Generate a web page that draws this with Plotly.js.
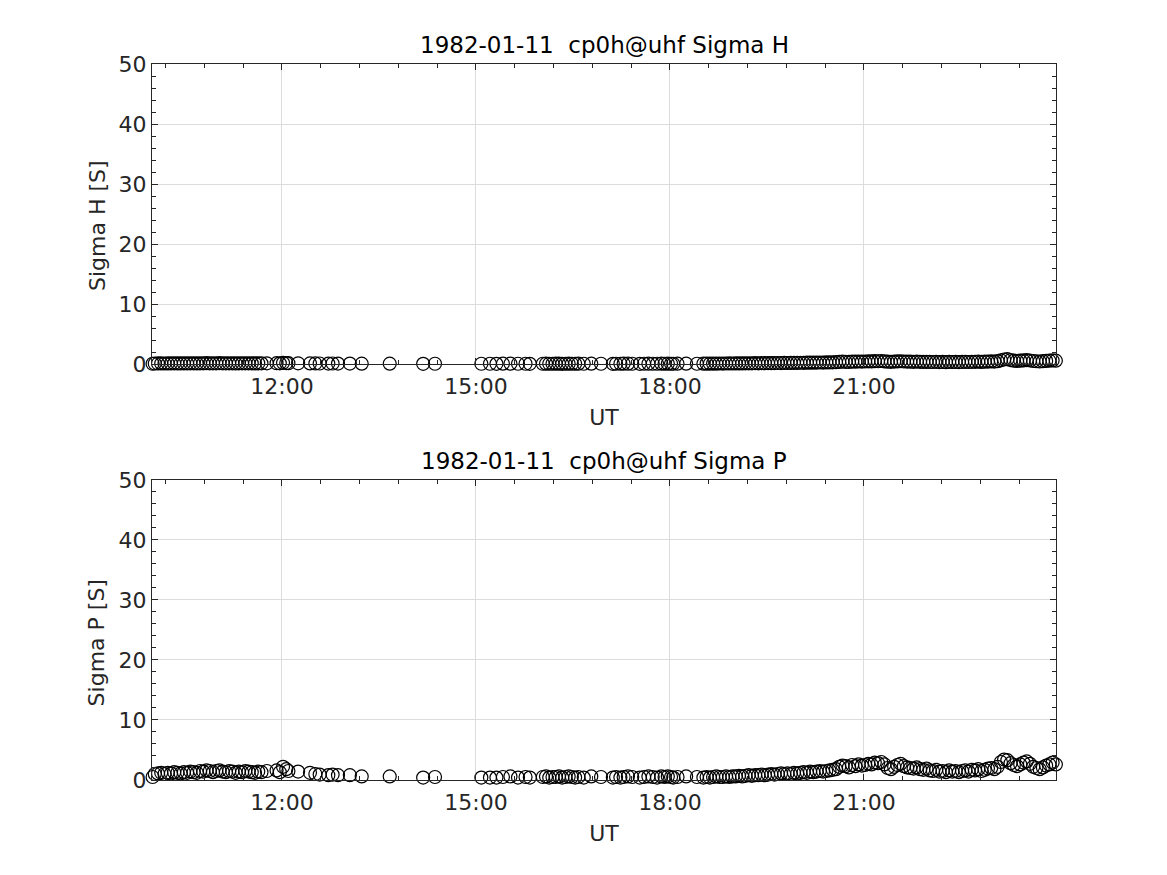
<!DOCTYPE html>
<html>
<head>
<meta charset="utf-8">
<script src="https://cdn.plot.ly/plotly-3.0.1.min.js"></script>
<style>html,body{margin:0;padding:0;background:#fff;}#chart{width:1167px;height:875px;}</style>
</head>
<body>
<div id="chart"></div>
<script>
// ---- data ----
const dateStr = '1982-01-11';
const titleTop = '1982-01-11  cp0h@uhf Sigma H';
const titleBottom = '1982-01-11  cp0h@uhf Sigma P';
const yLabelTop = 'Sigma H [S]';
const yLabelBottom = 'Sigma P [S]';
const xLabel = 'UT';

const timesUT = [
 '10:00','10:02','10:05','10:08','10:11','10:14','10:17','10:20','10:23','10:26',
 '10:29','10:32','10:35','10:38','10:41','10:44','10:47','10:50','10:53','10:56',
 '10:59','11:02','11:05','11:08','11:11','11:14','11:17','11:20','11:23','11:26',
 '11:29','11:32','11:35','11:38','11:41','11:46','11:55','11:58','12:01','12:04',
 '12:06','12:15','12:26','12:31','12:35','12:43','12:47','12:52','13:03','13:14',
 '13:40','14:11','14:22',
 '15:05','15:13','15:19','15:25','15:32','15:39','15:46','15:50','16:02','16:05',
 '16:08','16:11','16:14','16:17','16:20','16:23','16:26','16:29','16:32','16:35',
 '16:40','16:47','16:56','17:07','17:10','17:14','17:17','17:21','17:25','17:32',
 '17:36','17:40','17:44','17:48','17:52','17:55','17:58','18:01','18:03','18:07',
 '18:15','18:25',
 '18:31','18:34','18:37','18:40','18:43','18:46','18:49','18:52','18:55','18:58',
 '19:01','19:04','19:07','19:10','19:13','19:16','19:19','19:22','19:25','19:28',
 '19:31','19:34','19:37','19:40','19:43','19:46','19:49','19:52','19:55','19:58',
 '20:01','20:04','20:07','20:10','20:13','20:16','20:19','20:22','20:25','20:28',
 '20:31','20:34','20:37','20:40','20:43','20:46','20:49','20:52','20:55','20:58',
 '21:01','21:04','21:07','21:10','21:13','21:16','21:19','21:22','21:25','21:28',
 '21:31','21:34','21:37','21:40','21:43','21:46','21:49','21:52','21:55','21:58',
 '22:01','22:04','22:07','22:10','22:13','22:16','22:19','22:22','22:25','22:28',
 '22:31','22:34','22:37','22:40','22:43','22:46','22:49','22:52','22:55','22:58',
 '23:01','23:04','23:07','23:10','23:13','23:16','23:19','23:22','23:25','23:28',
 '23:31','23:34','23:37','23:40','23:43','23:46','23:49','23:52','23:55','23:58'
];

const sigmaH = [
 0.04,0.08,0.09,0.10,0.08,0.10,0.09,0.11,0.10,0.09,
 0.11,0.10,0.12,0.11,0.10,0.12,0.11,0.13,0.12,0.11,
 0.12,0.13,0.12,0.11,0.12,0.12,0.10,0.12,0.11,0.12,
 0.12,0.11,0.10,0.12,0.11,0.12,0.13,0.11,0.20,0.16,
 0.13,0.12,0.10,0.09,0.08,0.07,0.08,0.07,0.07,0.05,
 0.05,0.03,0.04,
 0.04,0.04,0.03,0.05,0.05,0.04,0.04,0.03,0.04,0.05,
 0.04,0.04,0.05,0.05,0.03,0.04,0.05,0.04,0.04,0.05,
 0.04,0.05,0.04,0.03,0.04,0.04,0.05,0.05,0.04,0.03,
 0.04,0.05,0.04,0.04,0.05,0.04,0.05,0.04,0.04,0.05,
 0.05,0.04,
 0.05,0.06,0.05,0.07,0.06,0.08,0.07,0.08,0.09,0.08,
 0.09,0.10,0.10,0.11,0.12,0.11,0.13,0.12,0.14,0.13,
 0.15,0.14,0.16,0.17,0.16,0.18,0.17,0.19,0.20,0.19,
 0.21,0.20,0.22,0.23,0.22,0.24,0.25,0.24,0.26,0.27,
 0.28,0.30,0.35,0.38,0.36,0.34,0.40,0.38,0.42,0.40,
 0.42,0.45,0.44,0.48,0.46,0.50,0.44,0.38,0.36,0.40,
 0.44,0.46,0.42,0.40,0.38,0.37,0.40,0.36,0.35,0.37,
 0.34,0.33,0.36,0.32,0.34,0.31,0.35,0.33,0.34,0.32,
 0.34,0.36,0.33,0.37,0.36,0.39,0.35,0.38,0.41,0.43,
 0.40,0.48,0.62,0.75,0.80,0.66,0.55,0.50,0.56,0.60,
 0.65,0.58,0.50,0.46,0.42,0.47,0.52,0.55,0.60,0.55
];

const sigmaP = [
 0.5,1.0,1.1,1.2,1.0,1.2,1.1,1.3,1.2,1.1,
 1.3,1.2,1.4,1.3,1.2,1.5,1.4,1.6,1.5,1.3,
 1.5,1.6,1.4,1.3,1.5,1.4,1.2,1.4,1.3,1.5,
 1.4,1.3,1.2,1.4,1.3,1.5,1.6,1.3,2.2,1.8,
 1.5,1.4,1.2,1.0,0.9,0.8,0.9,0.8,0.8,0.6,
 0.6,0.4,0.5,
 0.4,0.4,0.4,0.5,0.6,0.4,0.5,0.4,0.5,0.6,
 0.4,0.5,0.5,0.6,0.4,0.5,0.6,0.5,0.4,0.5,
 0.4,0.6,0.5,0.4,0.5,0.4,0.5,0.6,0.5,0.4,
 0.5,0.6,0.5,0.4,0.6,0.5,0.6,0.5,0.4,0.5,
 0.6,0.5,
 0.4,0.5,0.4,0.5,0.6,0.5,0.5,0.6,0.5,0.6,
 0.6,0.7,0.6,0.7,0.8,0.7,0.8,0.8,0.9,0.8,
 0.9,1.0,0.9,1.0,1.1,1.0,1.1,1.0,1.2,1.1,
 1.2,1.3,1.2,1.4,1.3,1.4,1.5,1.4,1.5,1.6,
 1.7,1.8,2.2,2.4,2.3,2.1,2.5,2.3,2.6,2.4,
 2.5,2.7,2.6,2.9,2.8,3.0,2.6,2.0,1.8,2.2,
 2.5,2.7,2.3,2.1,2.0,1.9,2.1,1.8,1.7,1.9,
 1.6,1.5,1.7,1.4,1.5,1.3,1.6,1.4,1.5,1.3,
 1.5,1.6,1.4,1.7,1.6,1.8,1.5,1.7,1.9,2.0,
 1.8,2.2,3.0,3.4,3.3,2.8,2.5,2.3,2.6,2.9,
 3.1,2.7,2.2,2.0,1.8,2.1,2.4,2.6,2.9,2.6
];

const yTicks = [0, 10, 20, 30, 40, 50];

// ---- build ----
const xDates = timesUT.map(t => dateStr + ' ' + t + ':00');
const textColor = '#262626';
const fontFam = 'DejaVu Sans, sans-serif';

const marker = {symbol: 'circle-open', size: 13, color: '#000', line: {width: 1.2, color: '#000'}};

const traces = [
  {x: xDates, y: sigmaH, type: 'scatter', mode: 'markers', marker: marker, cliponaxis: false, xaxis: 'x', yaxis: 'y', showlegend: false},
  {x: xDates, y: sigmaP, type: 'scatter', mode: 'markers', marker: marker, cliponaxis: false, xaxis: 'x2', yaxis: 'y2', showlegend: false}
];

function xAxis(anchor) {
  return {
    anchor: anchor, domain: [0, 1], type: 'date',
    range: [dateStr + ' 09:59:26', dateStr + ' 23:58:09'],
    tickformat: '%H:%M', tick0: dateStr + ' 00:00:00', dtick: 10800000,
    ticks: 'inside', ticklen: 6, tickwidth: 1, tickcolor: textColor,
    ticklabelstandoff: 3,
    showline: true, linecolor: textColor, linewidth: 1, mirror: 'ticks',
    showgrid: true, gridcolor: '#dcdcdc', gridwidth: 1, zeroline: false,
    minor: {dtick: 2160000, tick0: dateStr + ' 12:00:00', ticks: 'inside', ticklen: 4, tickcolor: textColor, showgrid: false},
    tickfont: {family: fontFam, size: 22, color: textColor},
    title: {text: xLabel, font: {family: fontFam, size: 22, color: textColor}, standoff: 11}
  };
}
function yAxis(anchor, domain) {
  return {
    anchor: anchor, domain: domain, range: [0, 50],
    tickvals: yTicks, ticktext: yTicks.map(String),
    ticks: 'inside', ticklen: 6, tickwidth: 1, tickcolor: textColor,
    showline: true, linecolor: textColor, linewidth: 1, mirror: 'ticks',
    showgrid: true, gridcolor: '#dcdcdc', gridwidth: 1, zeroline: false,
    minor: {dtick: 2, ticks: 'inside', ticklen: 4, tickcolor: textColor, showgrid: false},
    tickfont: {family: fontFam, size: 22, color: textColor}
  };
}

const layout = {
  width: 1167, height: 875,
  margin: {l: 152, r: 111, t: 64, b: 95},
  paper_bgcolor: '#fff', plot_bgcolor: '#fff',
  font: {family: fontFam, color: textColor},
  xaxis: xAxis('y'),
  yaxis: yAxis('x', [0.581, 1]),
  xaxis2: xAxis('y2'),
  yaxis2: yAxis('x2', [0, 0.419]),
  annotations: [
    {text: titleTop, xref: 'paper', yref: 'paper', x: 0.5, y: 1.027, xanchor: 'center', yanchor: 'middle', showarrow: false, font: {family: fontFam, size: 23, color: '#000'}},
    {text: titleBottom, xref: 'paper', yref: 'paper', x: 0.5, y: 0.4455, xanchor: 'center', yanchor: 'middle', showarrow: false, font: {family: fontFam, size: 23, color: '#000'}},
    {text: yLabelTop, xref: 'paper', yref: 'paper', x: -0.061, y: 0.775, xanchor: 'center', yanchor: 'middle', textangle: -90, showarrow: false, font: {family: fontFam, size: 22, color: textColor}},
    {text: yLabelBottom, xref: 'paper', yref: 'paper', x: -0.061, y: 0.192, xanchor: 'center', yanchor: 'middle', textangle: -90, showarrow: false, font: {family: fontFam, size: 22, color: textColor}}
  ]
};

Plotly.newPlot('chart', traces, layout, {displayModeBar: false, staticPlot: true});
</script>
</body>
</html>
